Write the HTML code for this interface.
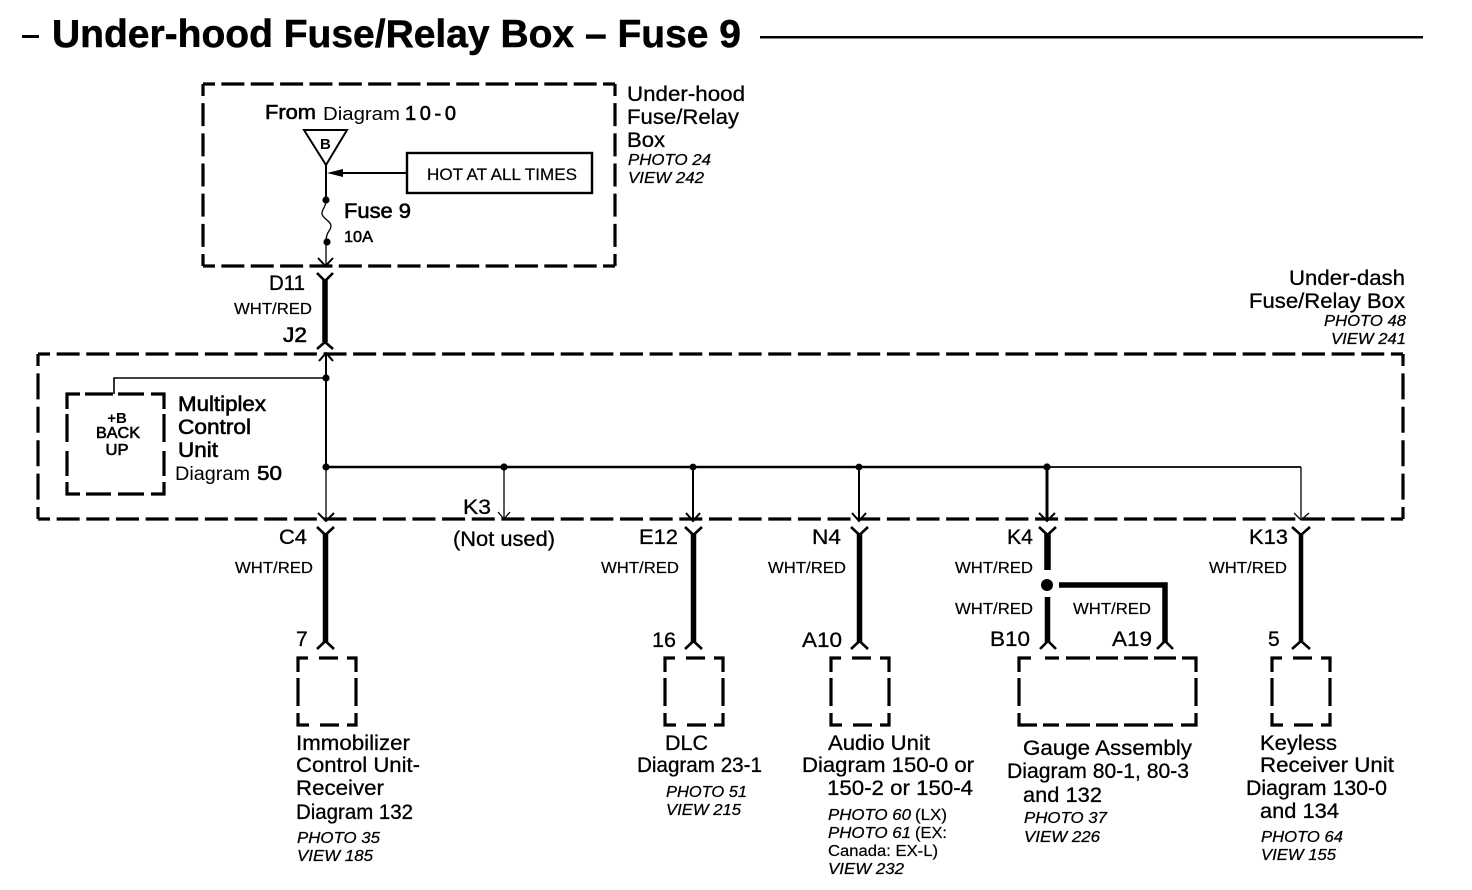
<!DOCTYPE html>
<html><head><meta charset="utf-8"><title>Under-hood Fuse/Relay Box – Fuse 9</title>
<style>
html,body{margin:0;padding:0;background:#fff;width:1472px;height:890px;overflow:hidden}
svg{display:block}
text{font-family:"Liberation Sans",sans-serif;fill:#000}
.l{font-size:21px;stroke:#000;stroke-width:.3px}
.lb{font-size:21px;stroke:#000;stroke-width:.6px}
.m{font-size:20px;stroke:#000;stroke-width:.2px}
.w{font-size:15.5px;stroke:#000;stroke-width:.2px}
.i{font-size:15.5px;font-style:italic;stroke:#000;stroke-width:.25px}
.s{font-size:15.5px;stroke:#000;stroke-width:.2px}
.sq{fill:none;stroke:#000;stroke-width:3.2;stroke-linejoin:miter}
.t{fill:none;stroke:#000;stroke-width:2}
.f{fill:none;stroke:#000;stroke-width:1.3}
.h{fill:none;stroke:#000;stroke-width:5.5}
.c{fill:none;stroke:#000;stroke-width:2.6}
</style></head><body>
<svg width="1472" height="890" viewBox="0 0 1472 890" xmlns="http://www.w3.org/2000/svg">
<!-- title -->
<rect x="22" y="35" width="17" height="3"/>
<text x="52" y="47" font-size="39" font-weight="bold" textLength="689" lengthAdjust="spacingAndGlyphs" stroke="#000" stroke-width=".5">Under-hood Fuse/Relay Box – Fuse 9</text>
<rect x="760" y="36" width="663" height="2.5"/>

<!-- top box -->
<g class="sq">
<path d="M203 84H615" stroke-dasharray="23 6.36" stroke-dashoffset="11"/>
<path d="M203 266H615" stroke-dasharray="23 6.36" stroke-dashoffset="11"/>
<path d="M203 84V266" stroke-dasharray="23 7.17" stroke-dashoffset="11"/>
<path d="M615 84V266" stroke-dasharray="23 7.17" stroke-dashoffset="11"/>
</g>
<text class="lb" x="265" y="119" font-size="20" style="font-size:20px" textLength="51" lengthAdjust="spacingAndGlyphs">From</text>
<text x="323" y="120" font-size="18.5" textLength="77" lengthAdjust="spacingAndGlyphs">Diagram</text>
<text class="lb" x="405" y="120" style="font-size:20px" textLength="51">10-0</text>
<path d="M304 130H347L326 165Z" fill="none" stroke="#000" stroke-width="2"/>
<text x="320" y="149" font-size="15" font-weight="bold">B</text>
<path class="t" d="M326 165V199"/>
<path d="M327 173L343 169V177Z"/>
<path class="t" d="M343 173H407"/>
<rect x="407" y="153" width="185" height="40" fill="none" stroke="#000" stroke-width="2.4"/>
<text class="s" x="427" y="180" textLength="150" lengthAdjust="spacingAndGlyphs" style="font-size:16.5px">HOT AT ALL TIMES</text>
<circle cx="326" cy="200" r="3.6"/>
<path class="f" d="M326 200C326 208 321 210 322 214C323 219 331 221 331 226C331 231 326 231 326 242"/>
<circle cx="327" cy="242" r="3.6"/>
<path class="f" d="M326 242V266"/>
<path class="t" d="M318 258L325.500 266L333 258"/>
<text class="lb" x="344" y="218" textLength="67" lengthAdjust="spacingAndGlyphs">Fuse 9</text>
<text class="s" x="344" y="242" textLength="29" lengthAdjust="spacingAndGlyphs" style="stroke-width:.5px">10A</text>

<text class="l" x="627" y="101" textLength="118" lengthAdjust="spacingAndGlyphs">Under-hood</text>
<text class="l" x="627" y="124" textLength="112" lengthAdjust="spacingAndGlyphs">Fuse/Relay</text>
<text class="l" x="627" y="147" textLength="38" lengthAdjust="spacingAndGlyphs">Box</text>
<text class="i" x="628" y="165" textLength="83" lengthAdjust="spacingAndGlyphs">PHOTO 24</text>
<text class="i" x="628" y="183" textLength="76" lengthAdjust="spacingAndGlyphs">VIEW 242</text>

<!-- D11-J2 -->
<path class="c" d="M317 273L325 281L333 273"/>
<path class="h" d="M325 279V342"/>
<path class="c" d="M317 349L325 342L333 349"/>
<text class="l" x="269" y="290" textLength="36" lengthAdjust="spacingAndGlyphs">D11</text>
<text class="w" x="234" y="314" textLength="78" lengthAdjust="spacingAndGlyphs">WHT/RED</text>
<text class="lb" x="283" y="342" textLength="24" lengthAdjust="spacingAndGlyphs">J2</text>

<text class="l" x="1289" y="285" textLength="116" lengthAdjust="spacingAndGlyphs">Under-dash</text>
<text class="l" x="1249" y="308" textLength="156" lengthAdjust="spacingAndGlyphs">Fuse/Relay Box</text>
<text class="i" x="1324" y="326" textLength="82" lengthAdjust="spacingAndGlyphs">PHOTO 48</text>
<text class="i" x="1331" y="344" textLength="75" lengthAdjust="spacingAndGlyphs">VIEW 241</text>

<!-- big box -->
<g class="sq">
<path d="M38 354H1403" stroke-dasharray="23 6.65" stroke-dashoffset="11"/>
<path d="M38 519H1403" stroke-dasharray="23 6.65" stroke-dashoffset="11"/>
<path d="M38 354V519" stroke-dasharray="26 7.4" stroke-dashoffset="14"/>
<path d="M1403 354V519" stroke-dasharray="26 7.4" stroke-dashoffset="14"/>
</g>
<path class="t" d="M319 361L326 353L333 361"/>
<path class="t" d="M326 353V467"/>
<path class="f" d="M326 467V519"/>
<path class="t" d="M326 378H114V394" style="stroke-width:1.6"/>
<circle cx="326" cy="378" r="3.6"/>
<circle cx="326" cy="467" r="3.6"/>
<path class="t" d="M326 467H1047" style="stroke-width:2.4"/>
<path class="t" d="M1047 467H1301" style="stroke-width:1.7"/>
<path class="f" d="M1301 467V519"/>
<path class="f" d="M504 467V519"/>
<circle cx="504" cy="467" r="3.6"/>
<path class="f" d="M498 512L504 519L510 512"/>
<path class="t" d="M693 467V519"/>
<circle cx="693" cy="467" r="3.4"/>
<path class="t" d="M859 467V519"/>
<circle cx="859" cy="467" r="3.4"/>
<path class="t" d="M1047 467V519" style="stroke-width:3"/>
<circle cx="1047" cy="467" r="3.6"/>
<path class="t" d="M318 513L326 521L334 513"/>
<path class="t" d="M686 513L693 521L700 513"/>
<path class="t" d="M852 513L859 521L866 513"/>
<path class="t" d="M1039 513L1047 521L1055 513"/>
<path class="f" d="M1294 513L1301 520L1309 513"/>

<!-- MCU -->
<g transform="translate(67 394)"><path class="sq" d="M0 15V0H13M18 0H46M51 0H77M84 0H97V15M97 20V48M97 57V82M97 88V100H84M77 100H51M44 100H19M13 100H0V88M0 82V57M0 48V20"/></g>
<text x="117" y="423" text-anchor="middle" font-size="15" font-weight="bold">+B</text>
<text x="118" y="438" text-anchor="middle" font-size="15.5" textLength="44" lengthAdjust="spacingAndGlyphs" stroke="#000" stroke-width=".6">BACK</text>
<text x="117" y="455" text-anchor="middle" font-size="15.5" textLength="23" lengthAdjust="spacingAndGlyphs" stroke="#000" stroke-width=".6">UP</text>
<text class="lb" x="178" y="411" textLength="88" lengthAdjust="spacingAndGlyphs">Multiplex</text>
<text class="lb" x="178" y="434" textLength="73" lengthAdjust="spacingAndGlyphs">Control</text>
<text class="lb" x="178" y="457" textLength="40" lengthAdjust="spacingAndGlyphs">Unit</text>
<text x="175" y="480" font-size="19" textLength="75" lengthAdjust="spacingAndGlyphs">Diagram</text>
<text class="lb" x="257" y="480" style="font-size:20px" textLength="25" lengthAdjust="spacingAndGlyphs">50</text>

<text class="l" x="463" y="514" textLength="28" lengthAdjust="spacingAndGlyphs">K3</text>
<text class="l" x="453" y="546" textLength="102" lengthAdjust="spacingAndGlyphs">(Not used)</text>

<!-- C4 -->
<path class="c" d="M317 527L325.500 535L334 527"/>
<path class="h" d="M325.500 533V642"/>
<path class="c" d="M317 649L325.500 641L334 649"/>
<text class="l" x="279" y="544" textLength="28" lengthAdjust="spacingAndGlyphs">C4</text>
<text class="w" x="235" y="573" textLength="78" lengthAdjust="spacingAndGlyphs">WHT/RED</text>
<text class="l" x="296" y="646">7</text>
<g transform="translate(298 658)"><path class="sq" d="M0 14V0H10M21 0H40M49 0H58V14M58 20V48M58 55V67H49M41 67H22M11 67H0V55M0 48V20"/></g>
<text class="l" x="296" y="750" textLength="114" lengthAdjust="spacingAndGlyphs">Immobilizer</text>
<text class="l" x="296" y="772" textLength="124" lengthAdjust="spacingAndGlyphs">Control Unit-</text>
<text class="l" x="296" y="795" textLength="88" lengthAdjust="spacingAndGlyphs">Receiver</text>
<text class="l" x="296" y="819" textLength="117" lengthAdjust="spacingAndGlyphs">Diagram 132</text>
<text class="i" x="297" y="843" textLength="83" lengthAdjust="spacingAndGlyphs">PHOTO 35</text>
<text class="i" x="297" y="861" textLength="76" lengthAdjust="spacingAndGlyphs">VIEW 185</text>

<!-- E12 -->
<path class="c" d="M685 527L693.500 535L702 527"/>
<path class="h" d="M693.500 533V642"/>
<path class="c" d="M685 649L693.500 641L702 649"/>
<text class="l" x="639" y="544" textLength="39" lengthAdjust="spacingAndGlyphs">E12</text>
<text class="w" x="601" y="573" textLength="78" lengthAdjust="spacingAndGlyphs">WHT/RED</text>
<text class="l" x="652" y="647" textLength="24" lengthAdjust="spacingAndGlyphs">16</text>
<g transform="translate(665 658)"><path class="sq" d="M0 14V0H10M21 0H40M49 0H58V14M58 20V48M58 55V67H49M41 67H22M11 67H0V55M0 48V20"/></g>
<text class="l" x="665" y="750" textLength="43" lengthAdjust="spacingAndGlyphs">DLC</text>
<text class="l" x="637" y="772" textLength="125" lengthAdjust="spacingAndGlyphs">Diagram 23-1</text>
<text class="i" x="666" y="797" textLength="81" lengthAdjust="spacingAndGlyphs">PHOTO 51</text>
<text class="i" x="666" y="815" textLength="75" lengthAdjust="spacingAndGlyphs">VIEW 215</text>

<!-- N4 -->
<path class="c" d="M851 527L859.500 535L868 527"/>
<path class="h" d="M859.500 533V642"/>
<path class="c" d="M851 649L859.500 641L868 649"/>
<text class="l" x="812" y="544" textLength="29" lengthAdjust="spacingAndGlyphs">N4</text>
<text class="w" x="768" y="573" textLength="78" lengthAdjust="spacingAndGlyphs">WHT/RED</text>
<text class="l" x="802" y="647" textLength="40" lengthAdjust="spacingAndGlyphs">A10</text>
<g transform="translate(831 658)"><path class="sq" d="M0 14V0H10M21 0H40M49 0H58V14M58 20V48M58 55V67H49M41 67H22M11 67H0V55M0 48V20"/></g>
<text class="l" x="828" y="750" textLength="102" lengthAdjust="spacingAndGlyphs">Audio Unit</text>
<text class="l" x="802" y="772" textLength="172" lengthAdjust="spacingAndGlyphs">Diagram 150-0 or</text>
<text class="l" x="827" y="795" textLength="146" lengthAdjust="spacingAndGlyphs">150-2 or 150-4</text>
<text class="i" x="828" y="820" textLength="83" lengthAdjust="spacingAndGlyphs">PHOTO 60</text><text class="s" x="915" y="820" textLength="32" lengthAdjust="spacingAndGlyphs">(LX)</text>
<text class="i" x="828" y="838" textLength="83" lengthAdjust="spacingAndGlyphs">PHOTO 61</text><text class="s" x="915" y="838" textLength="32" lengthAdjust="spacingAndGlyphs">(EX:</text>
<text class="s" x="828" y="856" textLength="110" lengthAdjust="spacingAndGlyphs">Canada: EX-L)</text>
<text class="i" x="828" y="874" textLength="76" lengthAdjust="spacingAndGlyphs">VIEW 232</text>

<!-- K4 -->
<path class="c" d="M1039 527L1047.500 535L1056 527"/>
<path class="h" d="M1047.500 533V570" style="stroke-width:6.5"/>
<circle cx="1047" cy="585" r="6"/>
<path class="h" d="M1047.500 597V642"/>
<path class="c" d="M1040 649L1048 641L1056 649"/>
<path class="h" d="M1059 585H1165V642"/>
<path class="c" d="M1157 649L1165 641L1173 649"/>
<text class="l" x="1007" y="544" textLength="26" lengthAdjust="spacingAndGlyphs">K4</text>
<text class="w" x="955" y="573" textLength="78" lengthAdjust="spacingAndGlyphs">WHT/RED</text>
<text class="w" x="955" y="614" textLength="78" lengthAdjust="spacingAndGlyphs">WHT/RED</text>
<text class="w" x="1073" y="614" textLength="78" lengthAdjust="spacingAndGlyphs">WHT/RED</text>
<text class="l" x="990" y="646" textLength="40" lengthAdjust="spacingAndGlyphs">B10</text>
<text class="l" x="1112" y="646" textLength="40" lengthAdjust="spacingAndGlyphs">A19</text>
<g transform="translate(1019 658)"><path class="sq" d="M0 14V0H12M26 0H40M47 0H71M77 0H99M105 0H129M135 0H157M163 0H177V14M177 20V48M177 55V67H162M154 67H135M129 67H105M99 67H77M71 67H47M40 67H24M18 67H0V55M0 48V20"/></g>
<text class="l" x="1023" y="755" textLength="169" lengthAdjust="spacingAndGlyphs">Gauge Assembly</text>
<text class="l" x="1007" y="778" textLength="182" lengthAdjust="spacingAndGlyphs">Diagram 80-1, 80-3</text>
<text class="l" x="1023" y="802" textLength="79" lengthAdjust="spacingAndGlyphs">and 132</text>
<text class="i" x="1024" y="823" textLength="83" lengthAdjust="spacingAndGlyphs">PHOTO 37</text>
<text class="i" x="1024" y="842" textLength="76" lengthAdjust="spacingAndGlyphs">VIEW 226</text>

<!-- K13 -->
<path class="c" d="M1292 527L1301 535L1310 527"/>
<path class="h" d="M1301 533V642" style="stroke-width:4.5"/>
<path class="c" d="M1292 649L1301 641L1310 649"/>
<text class="l" x="1249" y="544" textLength="39" lengthAdjust="spacingAndGlyphs">K13</text>
<text class="w" x="1209" y="573" textLength="78" lengthAdjust="spacingAndGlyphs">WHT/RED</text>
<text class="l" x="1268" y="646">5</text>
<g transform="translate(1272 658)"><path class="sq" d="M0 14V0H10M21 0H40M49 0H58V14M58 20V48M58 55V67H49M41 67H22M11 67H0V55M0 48V20"/></g>
<text class="l" x="1260" y="750" textLength="77" lengthAdjust="spacingAndGlyphs">Keyless</text>
<text class="l" x="1260" y="772" textLength="134" lengthAdjust="spacingAndGlyphs">Receiver Unit</text>
<text class="l" x="1246" y="795" textLength="141" lengthAdjust="spacingAndGlyphs">Diagram 130-0</text>
<text class="l" x="1260" y="818" textLength="79" lengthAdjust="spacingAndGlyphs">and 134</text>
<text class="i" x="1261" y="842" textLength="82" lengthAdjust="spacingAndGlyphs">PHOTO 64</text>
<text class="i" x="1261" y="860" textLength="75" lengthAdjust="spacingAndGlyphs">VIEW 155</text>
</svg>
</body></html>
